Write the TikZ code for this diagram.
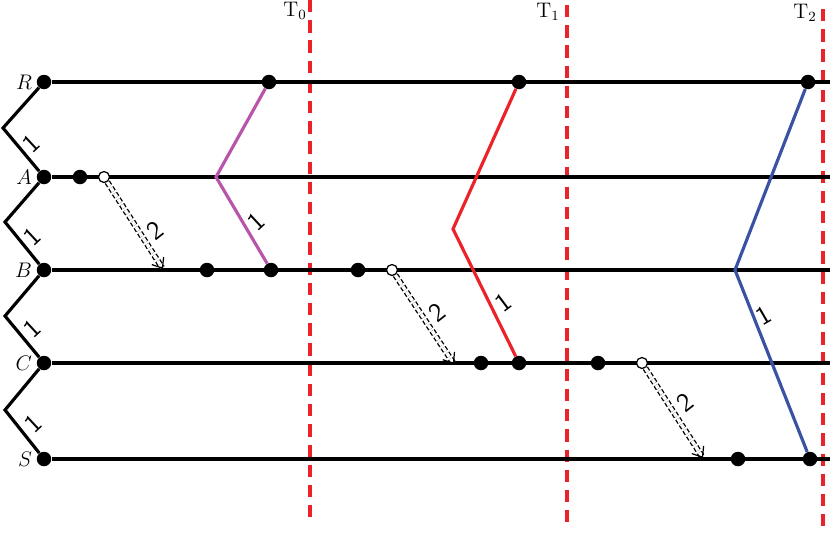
\documentclass[tikz,border=0pt]{standalone}
\usepackage{tikz}
\usetikzlibrary{positioning,arrows.meta}
\definecolor{viola}{RGB}{184,84,170}
\definecolor{rosso}{RGB}{236,34,40}
\definecolor{blu}{RGB}{58,82,164}

\begin{document}
\begin{tikzpicture}[x=0.02cm,y=-0.02cm,
  punto/.style={circle,fill=black,inner sep=0pt,minimum size=0.29cm},
  vuoto/.style={circle,draw=black,fill=white,line width=0.7pt,inner sep=0pt,minimum size=0.22cm},
  filo/.style={line width=1.8pt},
  messaggio/.style={double,double distance=1.9pt,line width=0.75pt,dash pattern=on 2.4pt off 1.4pt,-{Straight Barb[length=5pt,width=8pt,line width=0.7pt]}},
  etich/.style={font=\sffamily\fontsize{15}{17}\selectfont},
  nome/.style={font=\large},
  taglio/.style={rosso,line width=1.9pt,dash pattern=on 7pt off 4.5pt}]
\useasboundingbox (0,0) rectangle (830,534);

% tagli T0, T1, T2
\coordinate (t0a) at (310,0);   \coordinate (t0b) at (310,520);
\coordinate (t1a) at (567,5);   \coordinate (t1b) at (567,526);
\coordinate (t2a) at (823,9);   \coordinate (t2b) at (823,530);
\draw[taglio] (t0a) -- (t0b);
\draw[taglio] (t1a) -- (t1b);
\draw[taglio] (t2a) -- (t2b);
\node[nome] (t0) at (295,11) {T$_0$};
\node[nome] (t1) at (548,12) {T$_1$};
\node[nome] (t2) at (805,13) {T$_2$};

% punti sulle linee
\node[punto] (r0) at (44,82) {};
\node[punto] (r1) at (269,82) {};
\node[punto] (r2) at (519,82) {};
\node[punto] (r3) at (808,82) {};
\node[punto] (a0) at (44,177) {};
\node[punto] (a1) at (80,177) {};
\node[punto] (b0) at (44,270) {};
\node[punto] (b1) at (207,270) {};
\node[punto] (b2) at (271,270) {};
\node[punto] (b3) at (358,270) {};
\node[punto] (c0) at (44,363) {};
\node[punto] (c1) at (481,363) {};
\node[punto] (c2) at (519,363) {};
\node[punto] (c3) at (598,363) {};
\node[punto] (s0) at (44,459) {};
\node[punto] (s1) at (738,459) {};
\node[punto] (s2) at (810,459) {};

% nomi dei processi
\node[nome,left=-1pt of r0] (lR) {$R$};
\node[nome,left=-1pt of a0] (lA) {$A$};
\node[nome,left=-1pt of b0] (lB) {$B$};
\node[nome,left=-1pt of c0] (lC) {$C$};
\node[nome,left=-1pt of s0] (lS) {$S$};

% linee orizzontali
\coordinate (rE) at (830,82);
\coordinate (aE) at (830,177);
\coordinate (bE) at (830,270);
\coordinate (cE) at (830,363);
\coordinate (sE) at (830,459);
\draw[filo] (r0) -- (rE);
\draw[filo] (a0) -- (aE);
\draw[filo] (b0) -- (bE);
\draw[filo] (c0) -- (cE);
\draw[filo] (s0) -- (sE);

% zig-zag a sinistra
\coordinate (ra) at (3,128);
\coordinate (ab) at (5,222);
\coordinate (bc) at (5,316);
\coordinate (cs) at (5,410);
\draw[filo] (r0) -- (ra) -- (a0);
\draw[filo] (a0) -- (ab) -- (b0);
\draw[filo] (b0) -- (bc) -- (c0);
\draw[filo] (c0) -- (cs) -- (s0);
\node[etich,rotate=43] (z1) at (31,144) {1};
\node[etich,rotate=43] (z2) at (32,237) {1};
\node[etich,rotate=43] (z3) at (32,329) {1};
\node[etich,rotate=43] (z4) at (33,424) {1};

% linee colorate
\coordinate (vp) at (216,177);
\coordinate (vr) at (453,229);
\coordinate (vb) at (735,270);
\draw[filo,viola] (r1) -- (vp) -- (b2);
\draw[filo,rosso] (r2) -- (vr) -- (c2);
\draw[filo,blu] (r3) -- (vb) -- (s2);
\node[etich,rotate=43] (p1) at (256,222) {1};
\node[etich,rotate=37] (q1) at (503,302) {1};
\node[etich,rotate=30] (u1) at (764,316) {1};

% messaggi
\node[vuoto] (a2) at (104,177) {};
\node[vuoto] (b4) at (392,270) {};
\node[vuoto] (c4) at (642,363) {};
\coordinate (m1) at (163,269);
\coordinate (m2) at (454,364);
\coordinate (m3) at (703,458);
\draw[messaggio] (a2) -- (m1);
\draw[messaggio] (b4) -- (m2);
\draw[messaggio] (c4) -- (m3);
\node[etich,rotate=38] (n1) at (155,230) {2};
\node[etich,rotate=38] (n2) at (437,312) {2};
\node[etich,rotate=38] (n3) at (685,402) {2};
\end{tikzpicture}
\end{document}
